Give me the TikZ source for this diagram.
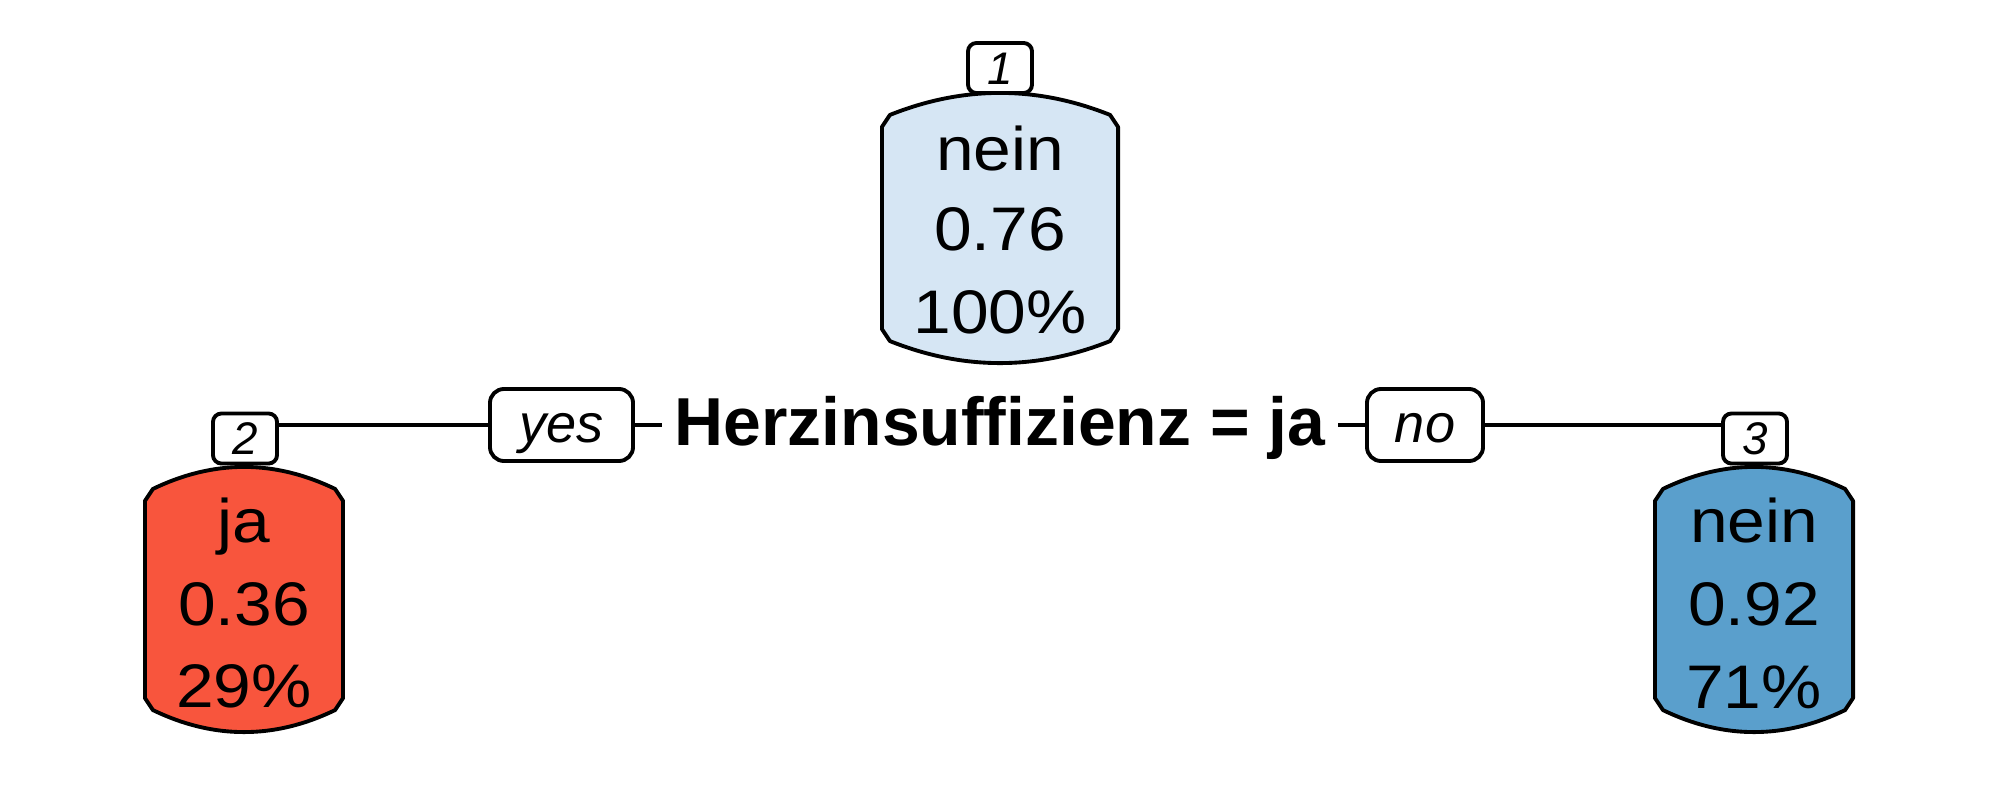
\documentclass[tikz,border=0pt]{standalone}
\usepackage{fontspec}
\setmainfont{Liberation Sans}
\newfontfamily\widesans[FakeStretch=1.1]{Liberation Sans}
\usetikzlibrary{calc}
\definecolor{rootblue}{HTML}{D6E6F4}
\definecolor{leafred}{HTML}{F8553D}
\definecolor{leafblue}{HTML}{5A9FCC}
\tikzset{
  cylbody/.style={line width=1.1pt, draw=black, line join=round},
  body/.style={inner sep=0pt, outer sep=0pt},
  valtext/.style={inner sep=0pt, anchor=base, font=\widesans\fontsize{17.5}{20}\selectfont},
  nnbox/.style={draw, fill=white, line width=1.1pt, rounded corners=2.4pt, minimum width=0.64cm, minimum height=0.5cm, inner sep=0pt, text height=0.34cm, text depth=0.02cm, font=\fontsize{13}{15}\selectfont\itshape},
  yesno/.style={draw, fill=white, line width=1.1pt, rounded corners=4pt, minimum height=0.72cm, inner sep=0pt, text height=0.40cm, text depth=0.06cm, font=\fontsize{15.4}{18}\selectfont\itshape},
  splittext/.style={inner xsep=0.12cm, inner ysep=0pt, anchor=base, font=\fontsize{19.3}{22}\selectfont\bfseries},
  conn/.style={line width=1.1pt}
}
\newcommand\cylshape[2]{%
 \coordinate (#1-a) at ($(#1.north west)+(8,22)$);
 \coordinate (#1-b) at ($(#1.north east)+(-8,22)$);
 \coordinate (#1-p) at ($(#1.north)+(0,-22)$);
 \coordinate (#1-c) at ($(#1.south east)+(-8,-22)$);
 \coordinate (#1-d) at ($(#1.south west)+(8,-22)$);
 \coordinate (#1-q) at ($(#1.south)+(0,22)$);
 \filldraw[cylbody, fill=#2] ($(#1.north west)+(0,34)$) -- (#1-a)
   .. controls ($(#1-a)!0.6667!(#1-p)$) and ($(#1-b)!0.6667!(#1-p)$) .. (#1-b)
   -- ($(#1.north east)+(0,34)$) -- ($(#1.south east)+(0,-34)$) -- (#1-c)
   .. controls ($(#1-c)!0.6667!(#1-q)$) and ($(#1-d)!0.6667!(#1-q)$) .. (#1-d)
   -- ($(#1.south west)+(0,-34)$) -- cycle;
}
\begin{document}
\begin{tikzpicture}[x=0.01cm, y=-0.01cm]
\useasboundingbox[fill=white] (0,0) rectangle (2000,800);

% node bodies
\node[body, minimum width=2.36cm, minimum height=2.70cm] (n1) at (1000,228) {};
\node[body, minimum width=1.98cm, minimum height=2.65cm] (n2) at (244,599.5) {};
\node[body, minimum width=1.98cm, minimum height=2.65cm] (n3) at (1754,599.5) {};
\cylshape{n1}{rootblue}
\cylshape{n2}{leafred}
\cylshape{n3}{leafblue}

% node texts
\node[valtext] (n1l1) at (1000,170) {nein};
\node[valtext] (n1l2) at (1000,250) {0.76};
\node[valtext] (n1l3) at (1000,333) {100\%};
\node[valtext] (n2l1) at (244,542) {ja};
\node[valtext] (n2l2) at (244,625) {0.36};
\node[valtext] (n2l3) at (244,707) {29\%};
\node[valtext] (n3l1) at (1754,542) {nein};
\node[valtext] (n3l2) at (1754,625) {0.92};
\node[valtext] (n3l3) at (1754,708) {71\%};

% node number boxes
\node[nnbox] (b1) at (1000,68) {1};
\node[nnbox] (b2) at (245,438.5) {2};
\node[nnbox] (b3) at (1755,438.5) {3};

% split label and yes/no boxes
\node[splittext] (sp) at (1000,445) {Herzinsuffizienz = ja};
\node[yesno, minimum width=1.43cm] (yes) at (561.5,425) {yes};
\node[yesno, minimum width=1.16cm] (no) at (1425,425) {no};

% connectors
\draw[conn] (yes.west) -- (yes.west -| b2.east);
\draw[conn] (yes.east) -- (yes.east -| sp.west);
\draw[conn] (no.west) -- (no.west -| sp.east);
\draw[conn] (no.east) -- (no.east -| b3.west);
\end{tikzpicture}
\end{document}
